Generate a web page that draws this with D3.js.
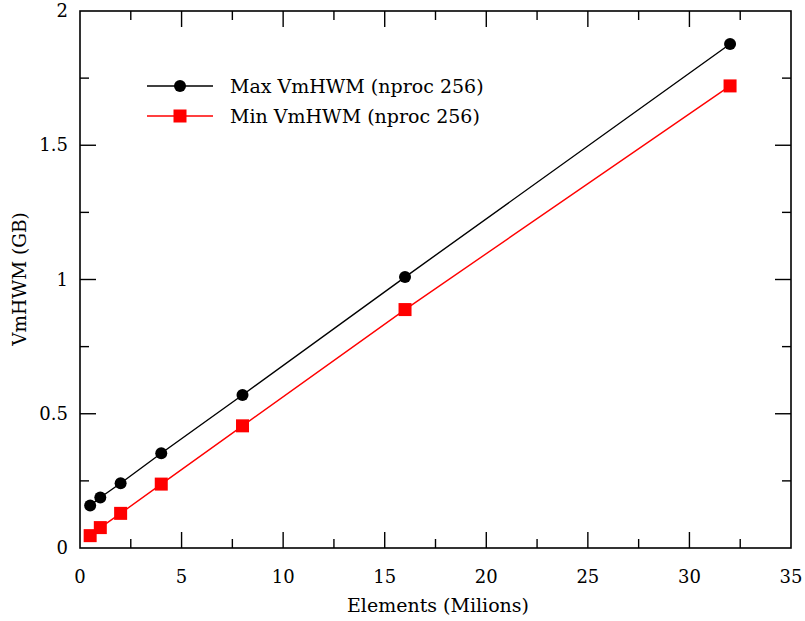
<!DOCTYPE html>
<html>
<head>
<meta charset="utf-8">
<script src="https://cdn.jsdelivr.net/npm/d3@7"></script>
<style>
  body { margin: 0; background: #fff; }
  svg { display: block; }
  text { font-family: "DejaVu Serif", serif; fill: #000; }
</style>
</head>
<body>
<script>
// Peak resident memory (VmHWM) vs. problem size, 256 processes
const elements = [0.5, 1, 2, 4, 8, 16, 32];
const maxVmHWM = [0.158, 0.188, 0.241, 0.353, 0.570, 1.009, 1.877];
const minVmHWM = [0.046, 0.076, 0.129, 0.238, 0.455, 0.888, 1.721];
const seriesNames = ["Max VmHWM (nproc 256)", "Min VmHWM (nproc 256)"];
const xTicks = [0, 5, 10, 15, 20, 25, 30, 35];
const yTicks = [0, 0.5, 1, 1.5, 2];
const yTickLabels = ["0", "0.5", "1", "1.5", "2"];

const W = 805, H = 621;
const m = { left: 80, right: 14, top: 11, bottom: 73 };

const svg = d3.select("body").append("svg").attr("width", W).attr("height", H);

const x = d3.scaleLinear().domain([0, 35]).range([m.left, W - m.right]);
const y = d3.scaleLinear().domain([0, 2]).range([H - m.bottom, m.top]);

const fontSize = 18;

// Inward tick marks on all four sides
const xMinor = d3.range(2.5, 35, 5);
const yMinor = d3.range(0.25, 2, 0.5);
const g = svg.append("g").attr("stroke", "#000").attr("stroke-width", 1.4);
const majLen = 16, minLen = 9;
xTicks.slice(1, -1).forEach(v => {
  g.append("line").attr("x1", x(v)).attr("x2", x(v)).attr("y1", y(0)).attr("y2", y(0) - majLen);
  g.append("line").attr("x1", x(v)).attr("x2", x(v)).attr("y1", y(2)).attr("y2", y(2) + majLen);
});
xMinor.forEach(v => {
  g.append("line").attr("x1", x(v)).attr("x2", x(v)).attr("y1", y(0)).attr("y2", y(0) - minLen);
  g.append("line").attr("x1", x(v)).attr("x2", x(v)).attr("y1", y(2)).attr("y2", y(2) + minLen);
});
yTicks.slice(1, -1).forEach(v => {
  g.append("line").attr("x1", x(0)).attr("x2", x(0) + majLen).attr("y1", y(v)).attr("y2", y(v));
  g.append("line").attr("x1", x(35)).attr("x2", x(35) - majLen).attr("y1", y(v)).attr("y2", y(v));
});
yMinor.forEach(v => {
  g.append("line").attr("x1", x(0)).attr("x2", x(0) + minLen).attr("y1", y(v)).attr("y2", y(v));
  g.append("line").attr("x1", x(35)).attr("x2", x(35) - minLen).attr("y1", y(v)).attr("y2", y(v));
});
// Frame
svg.append("rect")
  .attr("x", x(0)).attr("y", y(2))
  .attr("width", x(35) - x(0)).attr("height", y(0) - y(2))
  .attr("fill", "none").attr("stroke", "#000").attr("stroke-width", 1.6);

// Tick labels
svg.append("g").selectAll("text").data(xTicks).join("text")
  .attr("x", d => x(d)).attr("y", y(0) + 35)
  .attr("text-anchor", "middle").attr("font-size", fontSize)
  .text(d => d);
svg.append("g").selectAll("text").data(yTicks).join("text")
  .attr("x", x(0) - 12).attr("y", d => y(d) + 6)
  .attr("text-anchor", "end").attr("font-size", fontSize)
  .text((d, i) => yTickLabels[i]);

// Axis titles
svg.append("text").attr("x", 438).attr("y", 612)
  .attr("text-anchor", "middle").attr("font-size", 19)
  .text("Elements (Milions)");
svg.append("text")
  .attr("transform", `translate(26, 279) rotate(-90)`)
  .attr("text-anchor", "middle").attr("font-size", 18.5)
  .text("VmHWM (GB)");

// Series
const line = d3.line().x(d => x(d[0])).y(d => y(d[1]));
const maxPts = elements.map((e, i) => [e, maxVmHWM[i]]);
const minPts = elements.map((e, i) => [e, minVmHWM[i]]);

svg.append("path").datum(maxPts).attr("d", line)
  .attr("fill", "none").attr("stroke", "#000").attr("stroke-width", 1.4);
svg.append("path").datum(minPts).attr("d", line)
  .attr("fill", "none").attr("stroke", "#ff0000").attr("stroke-width", 1.4);

svg.append("g").selectAll("circle").data(maxPts).join("circle")
  .attr("cx", d => x(d[0])).attr("cy", d => y(d[1])).attr("r", 6).attr("fill", "#000");
const sq = 13;
svg.append("g").selectAll("rect").data(minPts).join("rect")
  .attr("x", d => x(d[0]) - sq / 2).attr("y", d => y(d[1]) - sq / 2)
  .attr("width", sq).attr("height", sq).attr("fill", "#ff0000");

// Legend
const leg = svg.append("g");
const legRows = [
  { name: seriesNames[0], color: "#000", shape: "circle", yy: 86 },
  { name: seriesNames[1], color: "#ff0000", shape: "square", yy: 116 }
];
legRows.forEach(r => {
  leg.append("line").attr("x1", 147).attr("x2", 213).attr("y1", r.yy).attr("y2", r.yy)
    .attr("stroke", r.color).attr("stroke-width", 1.4);
  if (r.shape === "circle") {
    leg.append("circle").attr("cx", 180).attr("cy", r.yy).attr("r", 6).attr("fill", r.color);
  } else {
    leg.append("rect").attr("x", 180 - sq / 2).attr("y", r.yy - sq / 2)
      .attr("width", sq).attr("height", sq).attr("fill", r.color);
  }
  leg.append("text").attr("x", 230).attr("y", r.yy + 7).attr("font-size", 19).text(r.name);
});
</script>
</body>
</html>
